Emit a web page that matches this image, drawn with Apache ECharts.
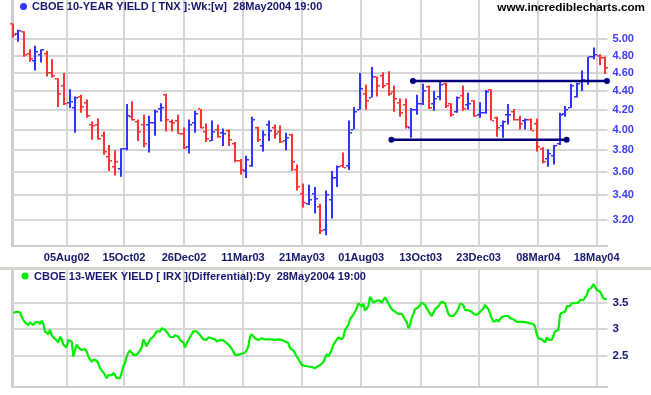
<!DOCTYPE html>
<html><head><meta charset="utf-8">
<script src="https://cdn.jsdelivr.net/npm/echarts@6/dist/echarts.min.js"></script>
<style>html,body{margin:0;padding:0;background:#fff}#c{width:651px;height:395px}</style>
</head><body><div id="c"></div>
<script>
// ---- Weekly TNX (10-year yield) bars, one per week, oldest first ----
const tnxOpen = [5.19,5.07,5.09,4.82,4.74,4.81,4.82,4.60,4.53,4.46,
4.27,4.22,4.34,4.27,4.05,4.05,3.94,3.74,3.65,3.63,
3.81,4.13,4.08,4.05,4.05,4.07,4.21,4.36,4.08,4.09,
3.96,3.83,4.07,4.21,3.98,3.89,4.00,3.97,3.99,3.86,
3.70,3.61,3.66,4.02,3.84,4.05,4.02,3.98,3.89,3.95,
3.62,3.41,3.33,3.41,3.30,3.12,3.36,3.55,3.66,3.66,
4.00,4.20,4.37,4.33,4.55,4.57,4.48,4.39,4.27,4.25,
4.02,4.20,4.26,4.44,4.26,4.34,4.48,4.26,4.18,4.35,
4.25,4.29,4.15,4.17,4.41,4.12,4.04,4.15,4.18,4.10,
4.09,4.10,4.06,3.81,3.72,3.75,3.86,4.16,4.22,4.34,
4.50,4.51,4.79,4.80,4.77];
const tnxHigh = [5.20,5.12,5.10,4.88,4.92,4.88,4.86,4.76,4.54,4.60,
4.42,4.34,4.36,4.31,4.08,4.11,3.98,3.85,3.80,3.82,
4.26,4.29,4.10,4.15,4.14,4.20,4.27,4.37,4.10,4.15,
4.02,4.10,4.19,4.21,4.06,4.09,4.05,4.01,4.00,3.88,
3.72,3.75,4.13,4.03,3.99,4.09,4.05,4.04,3.97,3.96,
3.67,3.50,3.49,3.47,3.33,3.44,3.61,3.66,3.78,4.09,
4.23,4.60,4.47,4.67,4.56,4.61,4.62,4.46,4.32,4.32,
4.22,4.36,4.48,4.46,4.40,4.50,4.49,4.27,4.34,4.46,
4.38,4.30,4.28,4.41,4.42,4.13,4.09,4.26,4.21,4.14,
4.11,4.11,4.11,3.83,3.81,3.85,4.17,4.24,4.48,4.49,
4.63,4.79,4.90,4.82,4.79];
const tnxLow = [5.02,4.97,4.79,4.73,4.63,4.72,4.56,4.55,4.23,4.25,
4.22,3.97,4.17,4.12,3.90,3.90,3.76,3.61,3.57,3.56,
3.80,4.09,3.89,3.83,3.78,3.94,4.08,3.98,3.98,3.96,
3.81,3.77,3.97,4.01,3.88,3.89,3.92,3.84,3.84,3.69,
3.58,3.55,3.65,3.88,3.79,3.89,3.91,3.87,3.80,3.61,
3.44,3.30,3.32,3.25,3.09,3.08,3.21,3.47,3.64,3.62,
4.00,4.20,4.20,4.33,4.34,4.43,4.35,4.18,4.13,4.01,
3.92,4.15,4.25,4.21,4.19,4.30,4.22,4.13,4.17,4.19,
4.20,4.13,4.12,4.16,4.09,3.93,3.92,4.05,4.09,4.00,
4.00,3.99,3.79,3.68,3.65,3.67,3.85,4.13,4.22,4.33,
4.40,4.47,4.76,4.69,4.59];
const tnxClose = [5.05,5.10,4.81,4.76,4.84,4.87,4.60,4.57,4.37,4.26,
4.28,4.33,4.23,4.14,4.04,3.91,3.78,3.70,3.69,3.81,
4.14,4.10,3.98,3.86,4.07,4.18,4.22,4.10,4.07,3.96,
3.82,4.05,4.16,4.02,3.91,3.98,3.93,3.96,3.90,3.70,
3.62,3.71,4.10,3.90,3.95,3.99,3.96,3.88,3.92,3.69,
3.47,3.34,3.36,3.37,3.11,3.40,3.55,3.65,3.64,3.97,
4.18,4.42,4.29,4.55,4.46,4.45,4.37,4.31,4.17,4.03,
4.20,4.26,4.40,4.22,4.31,4.47,4.24,4.15,4.33,4.21,
4.26,4.14,4.17,4.39,4.09,4.02,4.08,4.15,4.10,4.06,
4.10,3.99,3.83,3.69,3.77,3.84,4.15,4.20,4.46,4.48,
4.52,4.79,4.81,4.77,4.66];

// ---- 13-week yield (IRX), regularly sampled, oldest first ----
const irx = [3.31,3.33,3.33,3.33,3.32,3.24,3.18,3.13,3.14,3.08,
3.13,3.14,3.08,3.13,3.11,3.14,3.10,3.16,3.10,2.96,
2.98,2.91,2.99,2.89,2.85,2.83,2.79,2.75,2.86,2.81,
2.71,2.69,2.66,2.80,2.83,2.77,2.49,2.61,2.71,2.66,
2.68,2.61,2.64,2.63,2.58,2.49,2.43,2.39,2.43,2.43,
2.41,2.36,2.27,2.24,2.19,2.14,2.08,2.14,2.14,2.13,
2.18,2.14,2.08,2.10,2.08,2.18,2.31,2.36,2.49,2.56,
2.60,2.56,2.52,2.49,2.52,2.52,2.60,2.66,2.81,2.79,
2.68,2.71,2.81,2.83,2.86,2.91,2.96,2.99,2.96,3.02,
3.02,2.99,2.96,2.91,2.86,2.89,2.85,2.89,2.88,2.86,
2.80,2.79,2.75,2.66,2.66,2.80,2.85,2.88,2.96,2.98,
2.96,2.93,2.89,2.85,2.81,2.83,2.80,2.85,2.86,2.83,
2.80,2.81,2.77,2.77,2.80,2.80,2.79,2.77,2.74,2.71,
2.68,2.63,2.58,2.52,2.49,2.52,2.50,2.54,2.55,2.56,
2.61,2.68,2.86,2.91,2.88,2.83,2.83,2.80,2.77,2.83,
2.85,2.81,2.83,2.81,2.83,2.81,2.83,2.80,2.82,2.81,
2.79,2.80,2.81,2.77,2.79,2.74,2.64,2.61,2.60,2.55,
2.49,2.46,2.39,2.33,2.30,2.31,2.29,2.30,2.31,2.29,
2.30,2.27,2.29,2.31,
2.30,2.35,2.39,2.46,2.53,2.49,2.50,2.61,2.71,2.73,
2.80,2.85,2.83,2.81,2.85,2.99,3.02,3.08,3.19,3.23,
3.24,3.33,3.39,3.49,3.50,3.43,3.48,3.35,3.39,3.44,
3.61,3.63,3.50,3.49,3.54,3.52,3.54,3.50,3.55,3.60,
3.63,3.49,3.43,3.38,3.36,3.33,3.33,3.29,3.27,3.29,
3.24,3.18,3.14,3.02,3.08,3.21,3.29,3.38,3.38,3.41,
3.43,3.50,3.49,3.46,3.39,3.35,3.29,3.25,3.31,3.38,
3.39,3.43,3.48,3.52,3.54,3.49,3.39,3.29,3.25,3.27,
3.25,3.27,3.33,3.39,3.48,3.48,3.46,3.36,3.38,3.36,
3.33,3.33,3.31,3.27,3.30,3.29,3.33,3.36,3.39,3.46,
3.43,3.38,3.36,3.21,3.14,3.14,3.18,3.14,3.19,3.23,
3.21,3.25,3.23,3.25,3.21,3.23,3.19,3.18,3.14,3.16,
3.14,3.16,3.14,3.16,3.13,3.10,3.11,3.08,3.10,3.05,
2.91,2.83,2.80,2.81,2.79,2.75,2.85,2.80,2.79,2.80,
2.83,2.96,2.98,2.99,3.27,3.31,3.30,3.33,3.43,3.46,
3.44,3.49,3.46,3.49,3.48,3.50,3.55,3.56,3.55,3.60,
3.64,3.74,3.71,3.79,3.85,3.80,3.74,3.74,3.71,3.68,
3.58,3.55,3.56];
const IRX_START = 0.134;   // week position of first sample
const IRX_STEP = 0.2925;   // weeks per sample

// ---- axis ticks ----
const tickLabels = ['05Aug02','15Oct02','26Dec02','11Mar03','21May03','01Aug03','13Oct03','23Dec03','08Mar04','18May04'];
const tickWeeks = [9.50,19.55,30.08,40.43,50.79,61.19,71.61,81.79,92.25,102.5];
const tnxTicks = [3.2,3.4,3.6,3.8,4.0,4.2,4.4,4.6,4.8,5.0];
const irxTicks = [2.5,3,3.5];

// ---- drawn trend lines (value, from week, to week) ----
const trendValue = [4.51, 3.90];
const trendFrom = [70.26, 66.49];
const trendTo = [104.3, 97.23];

const NAVY = '#16166c', BLUE = '#3333ff', RED = '#ff3333', GRIDC = '#d5d5d5', BORDER = '#cdcdcd';
const FONT = '"Liberation Sans", Arial, sans-serif';

const bars = tnxClose.map((c, i) => {
  const prev = i > 0 ? tnxClose[i - 1] : tnxOpen[0];
  return [i, tnxOpen[i], tnxHigh[i], tnxLow[i], c, c >= prev ? 1 : 0];
});
const irxPts = irx.map((v, i) => [IRX_START + i * IRX_STEP, v]);

function tickFmt(v) {
  let best = 0;
  tickWeeks.forEach((t, i) => { if (Math.abs(t - v) < Math.abs(tickWeeks[best] - v)) best = i; });
  return tickLabels[best];
}

function renderBar(params, api) {
  const x = api.value(0);
  const pH = api.coord([x, api.value(2)]);
  const pL = api.coord([x, api.value(3)]);
  const pO = api.coord([x, api.value(1)]);
  const pC = api.coord([x, api.value(4)]);
  const color = api.value(5) ? BLUE : RED;
  const cx = Math.round(pH[0]);
  return {
    type: 'group',
    children: [
      { type: 'rect', shape: { x: cx - 1, y: pH[1], width: 2, height: Math.max(1, pL[1] - pH[1]) }, style: { fill: color } },
      { type: 'rect', shape: { x: cx - 3, y: Math.round(pO[1]) - 1, width: 2, height: 1.5 }, style: { fill: color } },
      { type: 'rect', shape: { x: cx + 1, y: Math.round(pC[1]) - 1, width: 2, height: 1.5 }, style: { fill: color } }
    ]
  };
}

// gridline items: [week, value, kind]  kind 0 = vertical at week, 1 = horizontal at value
function gridItems(yTicks, yRef) {
  return tickWeeks.map(w => [w, yRef, 0]).concat(yTicks.map(v => [50, v, 1]));
}
function renderGrid(params, api) {
  const cs = params.coordSys;
  const p = api.coord([api.value(0), api.value(1)]);
  if (api.value(2) === 0) {
    return { type: 'rect', shape: { x: Math.round(p[0]) - 1, y: cs.y, width: 2, height: cs.height }, style: { fill: GRIDC } };
  }
  return { type: 'rect', shape: { x: cs.x, y: Math.round(p[1]) - 1, width: cs.width, height: 2 }, style: { fill: GRIDC } };
}

const xCommon = (grid, showLabel) => ({
  type: 'value', gridIndex: grid, min: -0.1, max: 104.4,
  axisLine: { show: true, onZero: false, lineStyle: { color: BORDER, width: 2 } },
  axisTick: { show: false },
  axisLabel: showLabel ? { customValues: tickWeeks, formatter: tickFmt, color: NAVY, fontWeight: 'bold', fontSize: 11, fontFamily: FONT, margin: 6 } : { show: false },
  splitLine: { show: false }
});

const series = [
  { type: 'custom', xAxisIndex: 0, yAxisIndex: 0, renderItem: renderGrid, data: gridItems(tnxTicks, 4.0), encode: { x: 0, y: 1 }, silent: true, z: 1 },
  { type: 'custom', xAxisIndex: 1, yAxisIndex: 1, renderItem: renderGrid, data: gridItems(irxTicks, 3.0), encode: { x: 0, y: 1 }, silent: true, z: 1 },
  { type: 'custom', xAxisIndex: 0, yAxisIndex: 0, renderItem: renderBar, data: bars, encode: { x: 0, y: [1, 2, 3, 4] }, silent: true, z: 3 }
];
trendValue.forEach((v, i) => {
  series.push({ type: 'line', xAxisIndex: 0, yAxisIndex: 0, data: [[trendFrom[i], v], [trendTo[i], v]],
    symbol: 'circle', symbolSize: 6, showSymbol: true, clip: false, silent: true, z: 4,
    lineStyle: { color: '#00007a', width: 2.5 }, itemStyle: { color: '#00007a' } });
});
series.push({ type: 'line', xAxisIndex: 1, yAxisIndex: 1, data: irxPts, showSymbol: false, silent: true, z: 3,
  lineStyle: { color: '#00ee00', width: 2.2 } });

const chart = echarts.init(document.getElementById('c'));
chart.setOption({
  animation: false,
  backgroundColor: '#fff',
  grid: [
    { left: 12, top: 0, width: 595.5, height: 246 },
    { left: 12, top: 270, width: 595.5, height: 116.7 }
  ],
  xAxis: [xCommon(0, true), xCommon(1, false)],
  yAxis: [
    { type: 'log', gridIndex: 0, position: 'right', min: 3.0, max: 5.51,
      axisLine: { show: true, lineStyle: { color: BORDER, width: 2 } },
      axisTick: { show: false },
      axisLabel: { customValues: tnxTicks, formatter: v => Number(v).toFixed(2), color: '#3c3cf2', fontWeight: 'bold', fontSize: 11, fontFamily: FONT, margin: 5 },
      splitLine: { show: false } },
    { type: 'value', gridIndex: 1, position: 'right', min: 1.92, max: 4.115,
      axisLine: { show: true, lineStyle: { color: BORDER, width: 2 } },
      axisTick: { show: false },
      axisLabel: { customValues: irxTicks, formatter: v => String(v), color: NAVY, fontWeight: 'bold', fontSize: 11.5, fontFamily: FONT, margin: 5 },
      splitLine: { show: false } },
    { type: 'value', gridIndex: 0, position: 'left', axisLine: { show: true, lineStyle: { color: BORDER, width: 2 } }, axisTick: { show: false }, axisLabel: { show: false }, splitLine: { show: false } },
    { type: 'value', gridIndex: 1, position: 'left', axisLine: { show: true, lineStyle: { color: BORDER, width: 2 } }, axisTick: { show: false }, axisLabel: { show: false }, splitLine: { show: false } }
  ],
  graphic: [
    { type: 'rect', shape: { x: 0, y: 267, width: 651, height: 3 }, style: { fill: '#d6d3ce' }, z: 100 },
    { type: 'circle', shape: { cx: 23.5, cy: 6.5, r: 3.5 }, style: { fill: '#3333ff' }, z: 100 },
    { type: 'text', x: 32, y: 7, style: { text: 'CBOE 10-YEAR YIELD [ TNX ]:Wk:[w]  28May2004 19:00', fill: NAVY, font: 'bold 11px ' + FONT, textVerticalAlign: 'middle' }, z: 100 },
    { type: 'text', x: 645, y: 7.5, style: { text: 'www.incrediblecharts.com', fill: '#000', font: 'bold 11.7px ' + FONT, textAlign: 'right', textVerticalAlign: 'middle' }, z: 100 },
    { type: 'circle', shape: { cx: 25, cy: 276, r: 3.5 }, style: { fill: '#00ee00' }, z: 100 },
    { type: 'text', x: 34, y: 276.5, style: { text: 'CBOE 13-WEEK YIELD [ IRX ](Differential):Dy  28May2004 19:00', fill: NAVY, font: 'bold 11px ' + FONT, textVerticalAlign: 'middle' }, z: 100 }
  ],
  series: series
});
</script>
</body></html>
